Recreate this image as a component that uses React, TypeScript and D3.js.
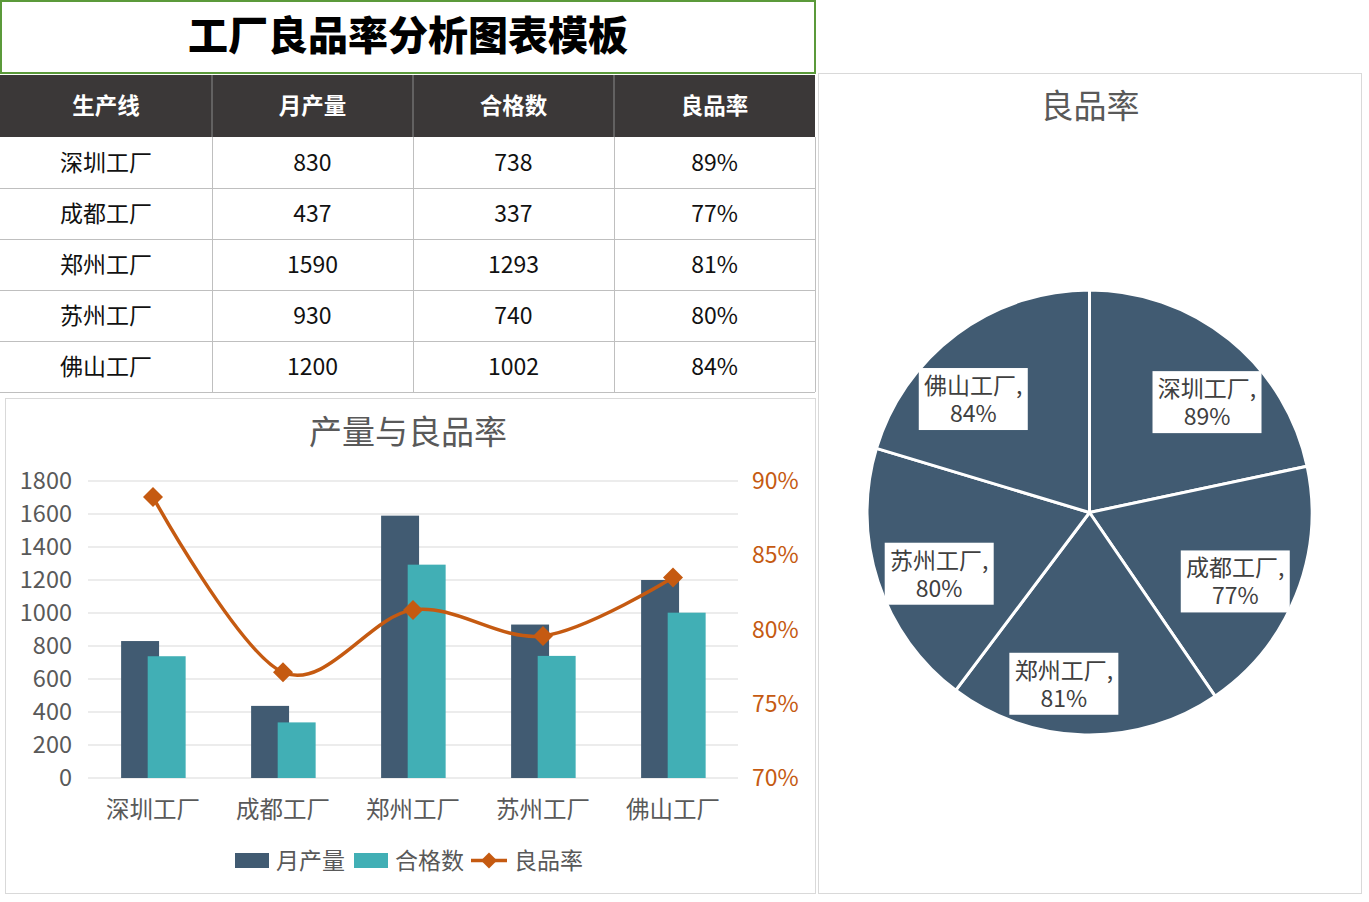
import React from 'react';
import * as d3 from 'd3';

const factories = ['深圳工厂', '成都工厂', '郑州工厂', '苏州工厂', '佛山工厂'];
const monthlyOutput = [830, 437, 1590, 930, 1200];
const qualifiedCount = [738, 337, 1293, 740, 1002];
const headers = ['生产线', '月产量', '合格数', '良品率'];
const leftTicks = [0, 200, 400, 600, 800, 1000, 1200, 1400, 1600, 1800];
const rightTicks = [0.7, 0.75, 0.8, 0.85, 0.9];
const seriesNames = ['月产量', '合格数', '良品率'];

const rates = factories.map((_, i) => qualifiedCount[i] / monthlyOutput[i]);

const FONT = '"Noto Sans CJK SC", "Noto Sans", sans-serif';
const DARK = '#415b72';
const TEAL = '#41afb5';
const ORANGE = '#c55a11';
const GREY_TEXT = '#595959';

const pct = d3.format('.0%');

function Table() {
  const colX = [0, 212, 413, 614, 815];
  const headTop = 75;
  const headH = 62;
  const rowH = 51;
  const rows = factories.map((f, i) => [f, String(monthlyOutput[i]), String(qualifiedCount[i]), pct(rates[i])]);
  return (
    <g>
      <rect x={1} y={1} width={814} height={72} fill="#fff" stroke="#5b9a3a" strokeWidth={2} />
      <text x={408} y={50} textAnchor="middle" fontFamily={FONT} fontWeight={900} fontSize={40} fill="#000">
        工厂良品率分析图表模板
      </text>
      <rect x={0} y={headTop} width={815} height={headH} fill="#3b3838" />
      {headers.map((h, j) => (
        <text key={h} x={(colX[j] + colX[j + 1]) / 2} y={headTop + headH / 2 + 8} textAnchor="middle"
          fontFamily={FONT} fontWeight={700} fontSize={22.5} fill="#fff">{h}</text>
      ))}
      {colX.slice(1, 4).map((x) => (
        <line key={'hv' + x} x1={x} x2={x} y1={headTop} y2={headTop + headH} stroke="#8a8a8a" strokeWidth={1} />
      ))}
      {rows.map((r, i) => {
        const y0 = headTop + headH + i * rowH;
        return (
          <g key={i}>
            {r.map((c, j) => (
              <text key={j} x={(colX[j] + colX[j + 1]) / 2} y={y0 + rowH / 2 + 8} textAnchor="middle"
                fontFamily={FONT} fontSize={23} fill="#111">{c}</text>
            ))}
            <line x1={0} x2={815} y1={y0 + rowH + 0.5} y2={y0 + rowH + 0.5} stroke="#bfbfbf" strokeWidth={1} />
          </g>
        );
      })}
      {colX.slice(1).map((x) => (
        <line key={'v' + x} x1={x + 0.5} x2={x + 0.5} y1={headTop + headH} y2={headTop + headH + rowH * 5} stroke="#bfbfbf" strokeWidth={1} />
      ))}
    </g>
  );
}

function Combo() {
  const left = 88, right = 738, top = 481, bottom = 778;
  const x = d3.scaleBand<string>().domain(factories).range([left, right]);
  const yL = d3.scaleLinear().domain([0, 1800]).range([bottom, top]);
  const yR = d3.scaleLinear().domain([0.7, 0.9]).range([bottom, top]);
  const bw = x.bandwidth();
  const barW = bw * 0.292;
  const cx = (f: string) => (x(f) as number) + bw / 2;
  const line = d3.line<number>()
    .x((_, i) => cx(factories[i]))
    .y((d) => yR(d))
    .curve(d3.curveCatmullRom.alpha(0));
  const diamond = (px: number, py: number, s: number) =>
    `M${px},${py - s}L${px + s},${py}L${px},${py + s}L${px - s},${py}Z`;
  return (
    <g>
      <rect x={5.5} y={398.5} width={810} height={495} fill="#fff" stroke="#d9d9d9" strokeWidth={1} />
      <text x={408} y={444} textAnchor="middle" fontFamily={FONT} fontSize={33} fill={GREY_TEXT}>产量与良品率</text>
      {leftTicks.map((t) => (
        <g key={t}>
          <line x1={left} x2={right} y1={yL(t)} y2={yL(t)} stroke="#d9d9d9" strokeWidth={1} />
          <text x={72} y={yL(t) + 8} textAnchor="end" fontFamily={FONT} fontSize={23.5} fill={GREY_TEXT}>{t}</text>
        </g>
      ))}
      {rightTicks.map((t) => (
        <text key={t} x={752} y={yR(t) + 8} textAnchor="start" fontFamily={FONT} fontSize={23} fill={ORANGE}>{pct(t)}</text>
      ))}
      {factories.map((f, i) => (
        <g key={f}>
          <rect x={cx(f) - barW * 0.84} y={yL(monthlyOutput[i])} width={barW} height={bottom - yL(monthlyOutput[i])} fill={DARK} />
          <rect x={cx(f) - barW * 0.14} y={yL(qualifiedCount[i])} width={barW} height={bottom - yL(qualifiedCount[i])} fill={TEAL} />
          <text x={cx(f)} y={818} textAnchor="middle" fontFamily={FONT} fontSize={23.5} fill={GREY_TEXT}>{f}</text>
        </g>
      ))}
      <path d={line(rates) || ''} fill="none" stroke={ORANGE} strokeWidth={3.5} strokeLinejoin="round" />
      {rates.map((r, i) => (
        <path key={i} d={diamond(cx(factories[i]), yR(r), 10)} fill={ORANGE} />
      ))}
      {/* legend */}
      <rect x={235} y={853} width={34} height={15} fill={DARK} />
      <text x={276} y={869} fontFamily={FONT} fontSize={23} fill={GREY_TEXT}>{seriesNames[0]}</text>
      <rect x={354} y={853} width={34} height={15} fill={TEAL} />
      <text x={395} y={869} fontFamily={FONT} fontSize={23} fill={GREY_TEXT}>{seriesNames[1]}</text>
      <line x1={471} x2={507} y1={860.5} y2={860.5} stroke={ORANGE} strokeWidth={3.5} />
      <path d={diamond(489, 860.5, 8)} fill={ORANGE} />
      <text x={514} y={869} fontFamily={FONT} fontSize={23} fill={GREY_TEXT}>{seriesNames[2]}</text>
    </g>
  );
}

function Pie() {
  const cx = 1089.5, cy = 512.5, r = 222.5;
  const pie = d3.pie<number>().sort(null).value((d) => d);
  const arcs = pie(rates);
  const arc = d3.arc<d3.PieArcDatum<number>>().innerRadius(0).outerRadius(r);
  const labelArc = d3.arc<d3.PieArcDatum<number>>().innerRadius(r * 0.725).outerRadius(r * 0.725);
  // best-fit label nudges (layout only)
  const nudge = [[16, 15], [-4, 9], [-22, 10], [3, 11], [-20, 16]];
  const boxW = 109, boxH = 62;
  return (
    <g>
      <rect x={818.5} y={73.5} width={543} height={820} fill="#fff" stroke="#d9d9d9" strokeWidth={1} />
      <text x={1090} y={118} textAnchor="middle" fontFamily={FONT} fontSize={33} fill={GREY_TEXT}>良品率</text>
      <g transform={`translate(${cx},${cy})`}>
        {arcs.map((a, i) => (
          <path key={i} d={arc(a) || ''} fill={DARK} stroke="#fff" strokeWidth={3} strokeLinejoin="round" />
        ))}
        {arcs.map((a, i) => {
          const [lx, ly] = labelArc.centroid(a);
          return (
            <g key={'l' + i} transform={`translate(${lx + nudge[i][0]},${ly + nudge[i][1]})`}>
              <rect x={-boxW / 2} y={-boxH / 2} width={boxW} height={boxH} fill="#fff" />
              <text textAnchor="middle" fontFamily={FONT} fontSize={23} fill="#404040">
                <tspan x={0} y={-5}>{factories[i] + ','}</tspan>
                <tspan x={0} y={23}>{pct(rates[i])}</tspan>
              </text>
            </g>
          );
        })}
      </g>
    </g>
  );
}

export default function App() {
  return (
    <svg width={1369} height={902} style={{ position: 'absolute', left: 0, top: 0, background: '#fff' }}>
      <rect x={0} y={0} width={1369} height={902} fill="#fff" />
      <Table />
      <Combo />
      <Pie />
    </svg>
  );
}
